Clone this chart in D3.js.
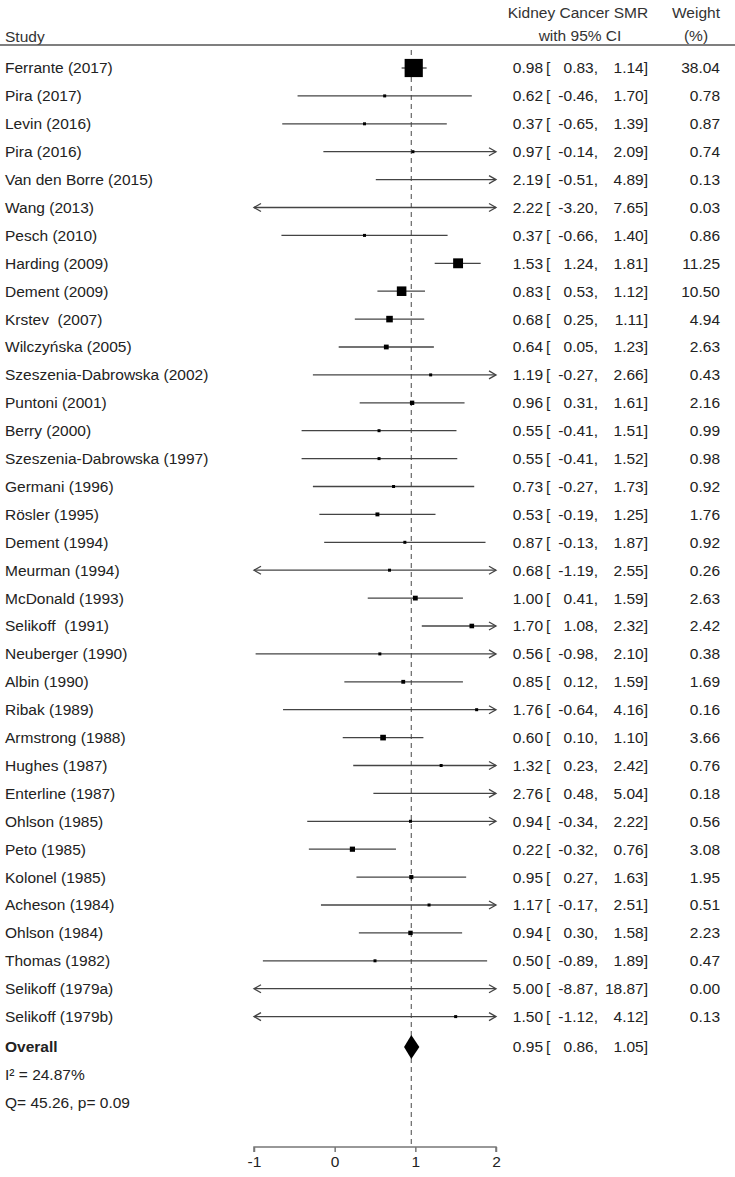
<!DOCTYPE html>
<html lang="en">
  <head>
    <meta charset="utf-8" />
    <title>Kidney Cancer SMR forest plot</title>
    <script src="https://d3js.org/d3.v7.min.js"></script>
    <style>
      body { margin: 0; background: #fff; }
      text { font-family: "Liberation Sans", Arial, Helvetica, sans-serif; font-size: 15.5px; fill: #222; white-space: pre; }
      .head { fill: #333; }
    </style>
  </head>
  <body>
    <div id="svgContainer"></div>
  <script>
    var width = 735,   // canvas size
        height = 1177;

    // Study data
    var studies = ["Ferrante (2017)", "Pira (2017)", "Levin (2016)", "Pira (2016)", "Van den Borre (2015)",
        "Wang (2013)", "Pesch (2010)", "Harding (2009)", "Dement (2009)", "Krstev  (2007)",
        "Wilczyńska (2005)", "Szeszenia-Dabrowska (2002)", "Puntoni (2001)", "Berry (2000)",
        "Szeszenia-Dabrowska (1997)", "Germani (1996)", "Rösler (1995)", "Dement (1994)",
        "Meurman (1994)", "McDonald (1993)", "Selikoff  (1991)", "Neuberger (1990)", "Albin (1990)",
        "Ribak (1989)", "Armstrong (1988)", "Hughes (1987)", "Enterline (1987)", "Ohlson (1985)",
        "Peto (1985)", "Kolonel (1985)", "Acheson (1984)", "Ohlson (1984)", "Thomas (1982)",
        "Selikoff (1979a)", "Selikoff (1979b)"];
    var smr   = [0.98, 0.62, 0.37, 0.97, 2.19, 2.22, 0.37, 1.53, 0.83, 0.68, 0.64, 1.19, 0.96, 0.55, 0.55,
        0.73, 0.53, 0.87, 0.68, 1.00, 1.70, 0.56, 0.85, 1.76, 0.60, 1.32, 2.76, 0.94, 0.22, 0.95, 1.17,
        0.94, 0.50, 5.00, 1.50];
    var lower = [0.83, -0.46, -0.65, -0.14, -0.51, -3.20, -0.66, 1.24, 0.53, 0.25, 0.05, -0.27, 0.31, -0.41,
        -0.41, -0.27, -0.19, -0.13, -1.19, 0.41, 1.08, -0.98, 0.12, -0.64, 0.10, 0.23, 0.48, -0.34, -0.32,
        0.27, -0.17, 0.30, -0.89, -8.87, -1.12];
    var upper = [1.14, 1.70, 1.39, 2.09, 4.89, 7.65, 1.40, 1.81, 1.12, 1.11, 1.23, 2.66, 1.61, 1.51, 1.52,
        1.73, 1.25, 1.87, 2.55, 1.59, 2.32, 2.10, 1.59, 4.16, 1.10, 2.42, 5.04, 2.22, 0.76, 1.63, 2.51,
        1.58, 1.89, 18.87, 4.12];
    var weights = [38.04, 0.78, 0.87, 0.74, 0.13, 0.03, 0.86, 11.25, 10.50, 4.94, 2.63, 0.43, 2.16, 0.99,
        0.98, 0.92, 1.76, 0.92, 0.26, 2.63, 2.42, 0.38, 1.69, 0.16, 3.66, 0.76, 0.18, 0.56, 3.08, 1.95,
        0.51, 2.23, 0.47, 0.00, 0.13];
    // In the original the Van den Borre line is drawn from about 0.51, not from its printed -0.51
    var drawnLower = {4: 0.51};
    var overall = {est: 0.95, lower: 0.86, upper: 1.05};
    var stats = ["I² = 24.87%", "Q= 45.26, p= 0.09"];
    var xTicks = [-1, 0, 1, 2];

    var rows = studies.map(function(s, i) {
        return {name: s, est: smr[i], lo: lower[i], hi: upper[i], w: weights[i],
                lineLo: (i in drawnLower) ? drawnLower[i] : lower[i]};
    });

    //Create SVG element
    var svg = d3.select("#svgContainer")
                .append("svg")
                .attr("width", width)
                .attr("height", height);

    // Scales
    var x = d3.scaleLinear().domain([-1, 2]).range([254, 496]);
    var y = d3.scaleLinear().domain([0, rows.length - 1]).range([68, 1016.6]);
    var yOverall = 1047,
        axisY = 1147;
    function fmt(v) { return v.toFixed(2); }   // keeps a plain hyphen for negatives
    var xMin = x.domain()[0], xMax = x.domain()[1];

    // Header
    svg.append("text").attr("class", "head").attr("x", 5).attr("y", 37).attr("dy", "0.35em").text("Study");
    svg.append("text").attr("class", "head").attr("x", 578).attr("y", 13).attr("dy", "0.35em")
       .attr("text-anchor", "middle").text("Kidney Cancer SMR");
    svg.append("text").attr("class", "head").attr("x", 580).attr("y", 36).attr("dy", "0.35em")
       .attr("text-anchor", "middle").text("with 95% CI");
    svg.append("text").attr("class", "head").attr("x", 696).attr("y", 13).attr("dy", "0.35em")
       .attr("text-anchor", "middle").text("Weight");
    svg.append("text").attr("class", "head").attr("x", 696).attr("y", 36).attr("dy", "0.35em")
       .attr("text-anchor", "middle").text("(%)");
    svg.append("line").attr("x1", 0).attr("x2", width).attr("y1", 45).attr("y2", 45)
       .attr("stroke", "#555").attr("stroke-width", 1.5);

    // Reference line at the overall estimate
    svg.append("line")
       .attr("x1", x(overall.est)).attr("x2", x(overall.est))
       .attr("y1", 50).attr("y2", axisY)
       .attr("stroke", "#666").attr("stroke-width", 1.2)
       .attr("stroke-dasharray", "5,4");

    // Study rows
    var rowGroups = svg.selectAll("g.row")
                       .data(rows)
                       .enter().append("g")
                       .attr("class", "row")
                       .attr("transform", function(d, i) { return "translate(0," + y(i) + ")"; });

    rowGroups.append("text")
             .attr("x", 5).attr("dy", "0.35em")
             .text(function(d) { return d.name; });

    // CI lines, clipped to the axis range
    rowGroups.append("line")
             .attr("x1", function(d) { return x(Math.max(d.lineLo, xMin)); })
             .attr("x2", function(d) { return x(Math.min(d.hi, xMax)); })
             .attr("stroke", "#444").attr("stroke-width", 1.3);

    // Open arrow heads where the CI runs off the axis
    rowGroups.filter(function(d) { return d.hi > xMax; })
             .append("path")
             .attr("d", function() { var t = x(xMax); return "M" + (t - 7) + ",-4L" + t + ",0L" + (t - 7) + ",4"; })
             .attr("fill", "none").attr("stroke", "#444").attr("stroke-width", 1.3);
    rowGroups.filter(function(d) { return d.lineLo < xMin; })
             .append("path")
             .attr("d", function() { var t = x(xMin); return "M" + (t + 7) + ",-4L" + t + ",0L" + (t + 7) + ",4"; })
             .attr("fill", "none").attr("stroke", "#444").attr("stroke-width", 1.3);

    // Weighted squares (only when the estimate is on the axis)
    function side(d) { return Math.max(3, 2.95 * Math.sqrt(d.w)); }
    rowGroups.filter(function(d) { return d.est >= xMin && d.est <= xMax; })
             .append("rect")
             .attr("x", function(d) { return x(d.est) - side(d) / 2; })
             .attr("y", function(d) { return -side(d) / 2; })
             .attr("width", side)
             .attr("height", side)
             .attr("fill", "#000");

    // Estimate columns
    function addCI(g) {
        g.append("text").attr("x", 543).attr("dy", "0.35em").attr("text-anchor", "end")
         .text(function(d) { return fmt(d.est); });
        g.append("text").attr("x", 546).attr("dy", "0.35em").text("[");
        g.append("text").attr("x", 598).attr("dy", "0.35em").attr("text-anchor", "end")
         .text(function(d) { return fmt(d.lo) + ","; });
        g.append("text").attr("x", 648).attr("dy", "0.35em").attr("text-anchor", "end")
         .text(function(d) { return fmt(d.hi) + "]"; });
    }
    addCI(rowGroups);
    rowGroups.append("text")
             .attr("x", 720).attr("dy", "0.35em").attr("text-anchor", "end")
             .text(function(d) { return fmt(d.w); });

    // Overall
    var overallGroup = svg.selectAll("g.overall")
                          .data([{est: overall.est, lo: overall.lower, hi: overall.upper}])
                          .enter().append("g")
                          .attr("class", "overall")
                          .attr("transform", "translate(0," + yOverall + ")");
    overallGroup.append("text").attr("x", 5).attr("dy", "0.35em")
                .style("font-weight", "bold").text("Overall");
    overallGroup.append("path")
                .attr("d", function(d) {
                    return "M" + x(d.lo) + ",0L" + x(d.est) + ",-12L" + x(d.hi) + ",0L" + x(d.est) + ",12Z";
                })
                .attr("fill", "#000");
    addCI(overallGroup);

    svg.selectAll("text.stat")
       .data(stats)
       .enter().append("text")
       .attr("class", "stat")
       .attr("x", 5)
       .attr("y", function(d, i) { return yOverall + 28 * (i + 1); })
       .attr("dy", "0.35em")
       .text(function(d) { return d; });

    // X axis
    var axis = svg.append("g")
                  .attr("transform", "translate(0," + axisY + ")")
                  .call(d3.axisBottom(x).tickValues(xTicks).tickSize(5).tickPadding(4)
                          .tickFormat(function(d) { return String(d); }));
    axis.select(".domain").attr("stroke", "#777").attr("stroke-width", 1.5)
        .attr("d", "M" + x(xMin) + ",5V0H" + x(xMax) + "V5");
    axis.selectAll(".tick line").attr("stroke", "#777").attr("stroke-width", 1.5);
    axis.selectAll(".tick text").style("font-size", "15.5px").attr("fill", "#222")
        .style("font-family", "'Liberation Sans', Arial, Helvetica, sans-serif");
  </script>
  </body>
</html>
